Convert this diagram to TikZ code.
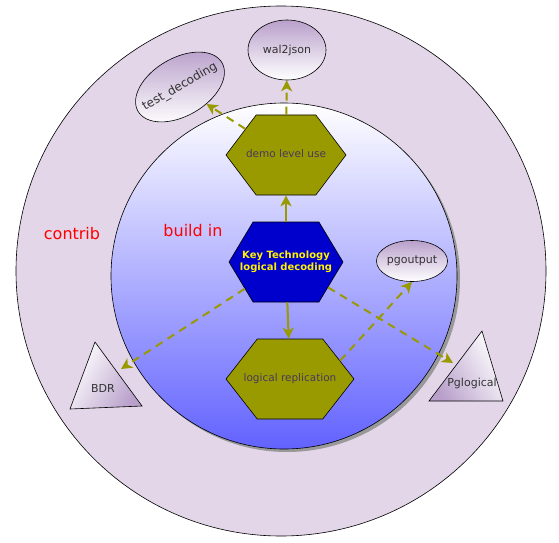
\documentclass[tikz,border=0pt]{standalone}
\usepackage{fontspec}
\setmainfont{DejaVu Sans}
\usetikzlibrary{shapes.geometric,shapes.symbols,arrows.meta,shadows}

\definecolor{ringfill}{HTML}{E2D6E8}
\definecolor{lila}{HTML}{B9A0CB}
\definecolor{oliv}{HTML}{999900}
\definecolor{keyblue}{HTML}{0000CC}
\definecolor{deepblue}{HTML}{6262FF}
\definecolor{hextext}{HTML}{4A3A5C}

\newcommand{\hexlabel}[1]{\makebox[0pt]{\begin{tabular}{@{}c@{}}#1\end{tabular}}}

\begin{document}
\begin{tikzpicture}[x=1pt,y=1pt]
\tikzset{hexa/.style={shape=signal,signal to=west and east,signal from=nowhere,draw=black,line width=0.6pt,fill=oliv,text=hextext,minimum height=80pt,inner sep=0pt,font=\fontsize{10.5}{12.5}\selectfont}}
\tikzset{plugin/.style={ellipse,draw=black,line width=0.6pt,top color=lila,bottom color=white,inner sep=0pt,text=black!80,font=\fontsize{11}{13}\selectfont}}
\tikzset{tri/.style={draw=black,line width=0.6pt,shading=axis,left color=white,right color=lila}}
\tikzset{flow/.style={draw=oliv,line width=2pt,-{Stealth[length=11pt,width=11pt,inset=3pt]}}}
\tikzset{extra/.style={flow,dash pattern=on 8pt off 6pt}}
\tikzset{area/.style={text=red,font=\fontsize{16}{18}\selectfont}}

\useasboundingbox (0,0) rectangle (559,542);

\node[circle,draw=black,line width=0.6pt,fill=ringfill,minimum size=530pt,inner sep=0pt] (contribring) at (281,271) {};
\node[circle,draw=black,line width=0.6pt,top color=white,bottom color=deepblue,minimum size=346pt,inner sep=0pt,
  drop shadow={shadow xshift=3pt,shadow yshift=-3pt,fill=black!40,opacity=1}] (buildinring) at (284,266) {};

\node[area] (contrib) at (72,308) {contrib};
\node[area] (buildin) at (193,311) {build in};

\node[hexa,minimum width=120pt,signal pointer angle=106] (demo) at (286,387) {\hexlabel{demo level use}};
\node[hexa,minimum width=114pt,signal pointer angle=118,fill=keyblue,text=yellow,
  font=\fontsize{10}{12}\selectfont\bfseries] (key) at (286,280) {\hexlabel{Key Technology\\logical decoding}};
\node[hexa,minimum width=128pt,signal pointer angle=104] (logrep) at (290,163) {\hexlabel{logical replication}};

\node[plugin,minimum width=78pt,minimum height=60pt] (wal2json) at (287,492) {wal2json};
\node[plugin,minimum width=97pt,minimum height=58pt,rotate=30,font=\fontsize{12}{14}\selectfont] (testdec) at (180,455) {\makebox[0pt]{test\_decoding}};
\node[plugin,minimum width=64pt,minimum height=41pt] (pgoutput) at (412,281) {pgoutput};

\path[tri,shading angle=60] (95,200) -- (142,136) -- (70,133) -- cycle;
\node[text=black!80,font=\fontsize{11}{13}\selectfont] (bdr) at (103,154) {BDR};
\coordinate (bdrtip) at (121,173);
\path[tri,shading angle=-60] (482,211) -- (503,141) -- (429,141) -- cycle;
\node[text=black!80,font=\fontsize{11}{13}\selectfont] (pglogical) at (472,159) {Pglogical};
\coordinate (pglogicaltip) at (453,179);

\draw[flow] (key) -- (demo);
\draw[flow] (key) -- (logrep);
\draw[extra] (demo) -- (wal2json);
\draw[extra] (demo) -- (testdec);
\draw[extra] (key) -- (bdrtip);
\draw[extra] (key) -- (pglogicaltip);
\draw[extra] (logrep.20) -- (pgoutput.south);

\end{tikzpicture}
\end{document}
